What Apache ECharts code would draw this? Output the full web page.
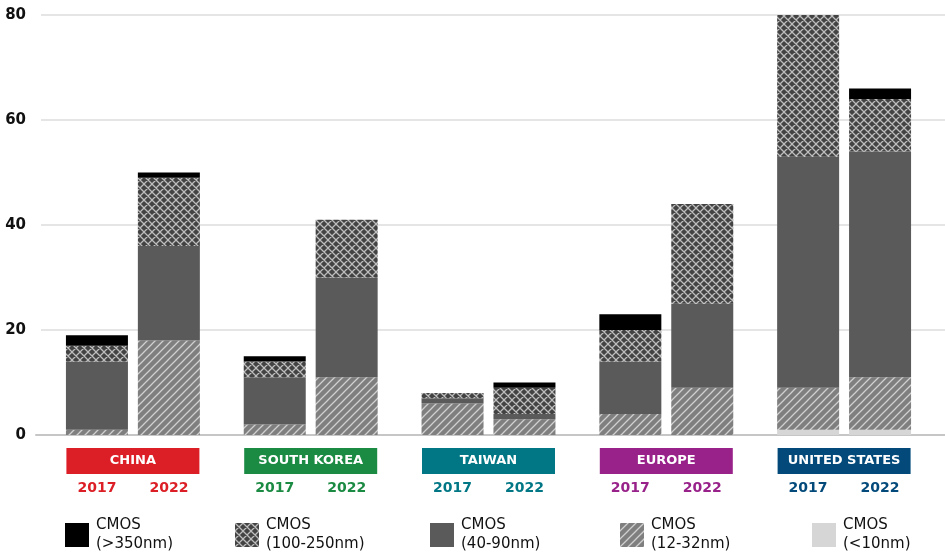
<!DOCTYPE html>
<html>
<head>
<meta charset="utf-8">
<script src="https://cdn.jsdelivr.net/npm/echarts@6/dist/echarts.min.js"></script>
<style>
  html, body { margin: 0; padding: 0; background: #fff; }
  #chart { width: 945px; height: 552px; }
</style>
</head>
<body>
<div id="chart"></div>
<script>
var regions = ["CHINA", "SOUTH KOREA", "TAIWAN", "EUROPE", "UNITED STATES"];
var regionColors = ["#dc1f26", "#1b8a42", "#017785", "#98228a", "#034a7b"];
var years = ["2017", "2022"];
var yTicks = [0, 20, 40, 60, 80];

// nodes, bottom of stack first
var nodes = ["<10nm", "12-32nm", "40-90nm", "100-250nm", ">350nm"];

var lt10_2017 = [0, 0, 0, 0, 1];
var lt10_2022 = [0, 0, 0, 0, 1];
var n12_2017 = [1, 2, 6, 4, 8];
var n12_2022 = [18, 11, 3, 9, 10];
var n40_2017 = [13, 9, 1, 10, 44];
var n40_2022 = [18, 19, 1, 16, 43];
var n100_2017 = [3, 3, 1, 6, 27];
var n100_2022 = [13, 11, 5, 19, 10];
var gt350_2017 = [2, 1, 0, 3, 0];
var gt350_2022 = [1, 0, 1, 0, 2];

var values2017 = [lt10_2017, n12_2017, n40_2017, n100_2017, gt350_2017];
var values2022 = [lt10_2022, n12_2022, n40_2022, n100_2022, gt350_2022];

// hatch patterns
function makePattern(bg, line, cross) {
  var c = document.createElement("canvas");
  c.width = 8;
  c.height = 8;
  var ctx = c.getContext("2d");
  ctx.fillStyle = bg;
  ctx.fillRect(0, 0, 8, 8);
  ctx.strokeStyle = line;
  ctx.lineWidth = 1.3;
  ctx.beginPath();
  [-8, 0, 8].forEach(function (k) {
    ctx.moveTo(k - 1, 9);
    ctx.lineTo(k + 9, -1);
    if (cross) {
      ctx.moveTo(k - 1, -1);
      ctx.lineTo(k + 9, 9);
    }
  });
  ctx.stroke();
  return { image: c, repeat: "repeat" };
}

var nodeColors = [
  "#d6d6d6",
  makePattern("#7f7f7f", "#d0d0d0", false),
  "#5a5a5a",
  makePattern("#434343", "#bdbdbd", true),
  "#000000"
];

var FONT = "DejaVu Sans";

var series = [];
[values2017, values2022].forEach(function (vals, yi) {
  nodes.forEach(function (n, i) {
    series.push({
      name: n,
      type: "bar",
      stack: years[yi],
      xAxisIndex: 0,
      yAxisIndex: 0,
      barWidth: 62,
      barGap: "16%",
      itemStyle: { color: nodeColors[i] },
      emphasis: { disabled: true },
      data: vals[i]
    });
  });
});

var rich = {};
regions.forEach(function (r, i) {
  rich["b" + i] = {
    backgroundColor: regionColors[i],
    color: "#fff",
    width: 133,
    height: 26,
    lineHeight: 26,
    align: "center",
    fontFamily: FONT,
    fontWeight: "bold",
    fontSize: 13
  };
  rich["y" + i] = {
    color: regionColors[i],
    width: 72,
    align: "center",
    lineHeight: 28,
    fontFamily: FONT,
    fontWeight: "bold",
    fontSize: 14
  };
});

// one legend per item, laid out along the bottom
var legendLeft = [65, 235, 430, 620, 812];
var legendOrder = [">350nm", "100-250nm", "40-90nm", "12-32nm", "<10nm"];
var legends = legendOrder.map(function (n, i) {
  return {
    data: [n],
    left: legendLeft[i],
    top: 514,
    padding: 0,
    icon: "rect",
    itemWidth: 24,
    itemHeight: 24,
    itemGap: 0,
    selectedMode: false,
    formatter: function (name) {
      return "CMOS\n(" + name + ")";
    },
    textStyle: {
      fontFamily: FONT,
      fontSize: 15,
      lineHeight: 19,
      color: "#111",
      padding: [0, 0, 4, 2]
    }
  };
});

var option = {
  animation: false,
  grid: [
    { left: 44, right: 12, top: 15, bottom: 117 },
    { left: 41, right: 0, top: 15, bottom: 117 },
    { left: 36, right: 0, top: 15, bottom: 117 }
  ],
  legend: legends,
  xAxis: [
    {
      gridIndex: 0,
      type: "category",
      data: regions,
      axisLine: { show: false },
      axisTick: { show: false },
      axisLabel: {
        margin: 13,
        interval: 0,
        formatter: function (v, i) {
          return "{b" + i + "|" + v + "}\n{y" + i + "|" + years[0] + "}{y" + i + "|" + years[1] + "}";
        },
        rich: rich
      }
    },
    { gridIndex: 1, type: "value", show: false },
    {
      gridIndex: 2,
      type: "value",
      axisLine: { show: true, lineStyle: { color: "#c6c6c6", width: 2 } },
      axisTick: { show: false },
      axisLabel: { show: false },
      splitLine: { show: false }
    }
  ],
  yAxis: [
    { gridIndex: 0, type: "value", min: 0, max: 80, show: false },
    {
      gridIndex: 1,
      type: "value",
      min: yTicks[0],
      max: yTicks[yTicks.length - 1],
      interval: 20,
      axisLine: { show: false },
      axisTick: { show: false },
      axisLabel: {
        margin: 15,
        color: "#111",
        fontFamily: FONT,
        fontWeight: "bold",
        fontSize: 15
      },
      splitLine: { lineStyle: { color: "#dcdcdc", width: 1.5 } }
    },
    { gridIndex: 2, type: "value", min: 0, max: 80, show: false }
  ],
  series: series
};

var chart = echarts.init(document.getElementById("chart"));
chart.setOption(option);
window.addEventListener("resize", function () {
  chart.resize();
});
</script>
</body>
</html>
